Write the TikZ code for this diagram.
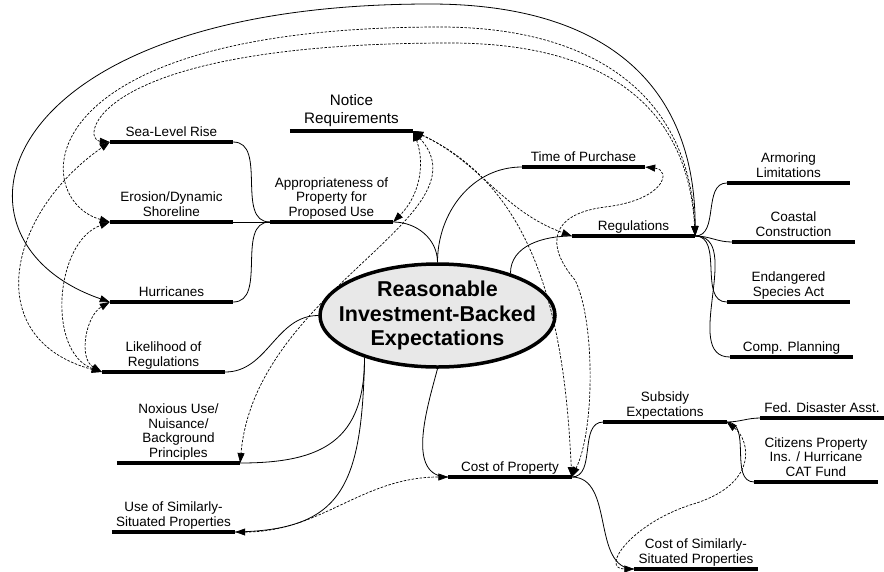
\documentclass[tikz,border=0pt]{standalone}
\usepackage{fontspec}
\setmainfont{Liberation Sans}
\usetikzlibrary{shapes.geometric,arrows.meta}

\begin{document}
\begin{tikzpicture}[x=1pt, y=1pt,
  >={Triangle[length=10pt,width=7pt]},
  topic/.style={anchor=south, align=center, minimum width=123pt, inner xsep=0pt, inner ysep=1pt,
    font=\fontsize{13.5}{14.5}\selectfont, execute at end node=\strut},
  bar/.style={line width=4pt},
  link/.style={line width=0.8pt},
  cross/.style={line width=0.7pt, dash pattern=on 2.5pt off 1.5pt}]
\useasboundingbox (0,0) rectangle (884,-571);

\node[ellipse, draw, line width=3.5pt, fill=black!9, minimum width=235pt, minimum height=103pt,
  inner xsep=-40pt, inner ysep=-10pt, align=center, font=\bfseries\fontsize{21.5}{24.5}\selectfont]
  (rib) at (437.5,-315.5) {Reasonable\\Investment-Backed\\Expectations};

\node[topic] (sea) at (171.5,-142) {Sea-Level Rise};
\node[topic] (erosion) at (171.5,-222) {Erosion/Dynamic\\Shoreline};
\node[topic] (hurricanes) at (171.5,-302) {Hurricanes};
\node[topic] (likelihood) at (163.5,-372) {Likelihood of\\Regulations};
\node[topic] (noxious) at (178.5,-463) {Noxious Use/\\Nuisance/\\Background\\Principles};
\node[topic] (usesim) at (173.5,-532) {Use of Similarly-\\Situated Properties};
\node[topic, font=\fontsize{15.2}{18}\selectfont, inner ysep=1.6pt] (notice) at (351.5,-131) {Notice\\Requirements};
\node[topic] (approp) at (331.5,-222) {Appropriateness of\\Property for\\Proposed Use};
\node[topic] (purchase) at (583.5,-167) {Time of Purchase};
\node[topic] (regs) at (633.5,-236) {Regulations};
\node[topic] (armoring) at (788.5,-183) {Armoring\\Limitations};
\node[topic] (coastal) at (793.5,-242) {Coastal\\Construction};
\node[topic] (species) at (788.5,-302) {Endangered\\Species Act};
\node[topic] (planning) at (791.5,-357) {Comp. Planning};
\node[topic] (cost) at (510,-477) {Cost of Property};
\node[topic] (subsidy) at (665,-422) {Subsidy\\Expectations};
\node[topic] (fed) at (822,-418) {Fed. Disaster Asst.};
\node[topic] (citizens) at (816,-482) {Citizens Property\\Ins. / Hurricane\\CAT Fund};
\node[topic] (costsim) at (696,-569) {Cost of Similarly-\\Situated Properties};

\foreach \n in {sea, erosion, hurricanes, likelihood, noxious, usesim, notice, approp, purchase,
  regs, armoring, coastal, species, planning, cost, subsidy, fed, citizens, costsim}
  \draw[bar] (\n.south west) -- (\n.south east);

\draw[link] (rib.north) to[out=90, in=0] (approp.south east);
\draw[link] (approp.south west) to[out=180, in=0] (sea.south east);
\draw[link] (approp.south west) -- (erosion.south east);
\draw[link] (approp.south west) to[out=180, in=0] (hurricanes.south east);
\draw[link] (rib.north) to[out=90, in=180] (purchase.south west);
\draw[link] (rib.30) to[out=90, in=180] (regs.south west);
\foreach \c in {armoring, coastal, species, planning}
  \draw[link] (regs.south east) to[out=0, in=180] (\c.south west);
\draw[link] (rib.west) to[out=180, in=0] (likelihood.south east);
\draw[link] (rib.210) to[out=-90, in=0, looseness=1.3] (noxious.south east);
\draw[link] (rib.210) .. controls (362,-490) and (340,-530) .. (usesim.south east);
\draw[link] (rib.south) to[out=-105, in=180] (cost.south west);
\draw[link] (cost.south east) to[out=0, in=180] (subsidy.south west);
\draw[link] (cost.south east) to[out=0, in=180] (costsim.south west);
\draw[link] (subsidy.south east) to[out=0, in=180] (fed.south west);
\draw[link] (subsidy.south east) to[out=0, in=180] (citizens.south west);

\draw[link, <->] (hurricanes.south west) .. controls (-70,-240) and (-10,-4) .. (430,-4)
  .. controls (600,-4) and (695,-80) .. (regs.south east);
\draw[cross, <->] (erosion.south west) .. controls (30,-200) and (20,-27) .. (440,-27)
  .. controls (600,-27) and (690,-100) .. (regs.south east);
\draw[cross, <->] (sea.south west) .. controls (80,-140) and (90,-43) .. (450,-43)
  .. controls (610,-43) and (688,-110) .. (regs.south east);

\draw[cross, <->] (likelihood.south west) to[out=165, in=215, looseness=1.4] (sea.south west);
\draw[cross, <->] (likelihood.south west) to[out=160, in=200] (erosion.south west);
\draw[cross, <->] (likelihood.south west) to[out=150, in=210] (hurricanes.south west);

\draw[cross, <->] (notice.south east) to[out=-70, in=45] (approp.south east);
\draw[cross, <->] (notice.south east) .. controls (490,-215) and (255,-290) .. (noxious.south east);
\draw[cross, <->] (notice.south east) to[out=-25, in=160] (regs.south west);
\draw[cross, <->] (notice.south east) .. controls (540,-190) and (565,-330) .. (cost.south east);
\draw[cross, <->] (purchase.south east) .. controls (672,-170) and (665,-200) .. (605,-207)
  .. controls (550,-214) and (545,-245) .. (575,-280)
  .. controls (595,-320) and (595,-430) .. (cost.south east);
\draw[cross, <->] (usesim.south east) to[out=0, in=180] (cost.south west);
\draw[cross, <->] (subsidy.south east) .. controls (750,-440) and (760,-485) .. (690,-505)
  .. controls (630,-525) and (600,-569) .. (costsim.south west);
\end{tikzpicture}
\end{document}
